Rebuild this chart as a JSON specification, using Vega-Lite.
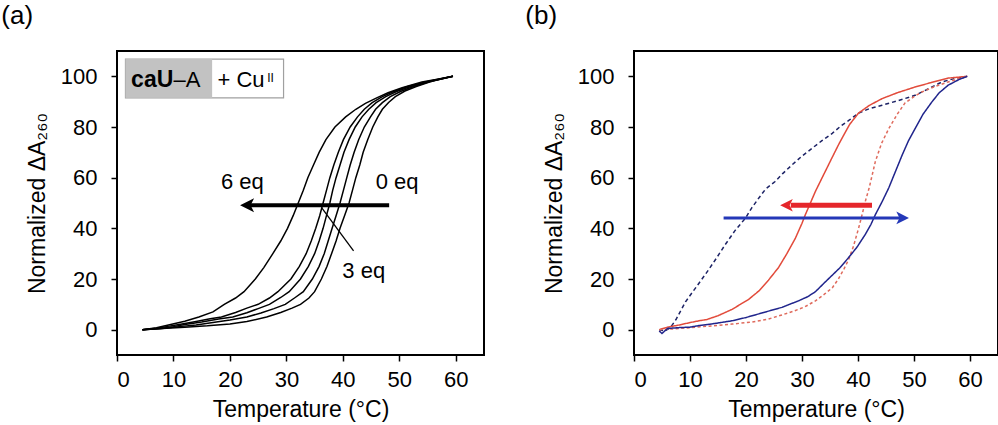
{
  "$schema": "https://vega.github.io/schema/vega-lite/v6.json",
  "padding": {"left": 0, "top": 2, "right": 0, "bottom": 0},
  "config": {
    "font": "Liberation Sans",
    "view": {"stroke": "black", "strokeWidth": 2},
    "axis": {
      "grid": false, "domain": false,
      "labelFont": "Liberation Sans", "labelFontSize": 22, "labelColor": "black",
      "titleFont": "Liberation Sans", "titleFontSize": 23, "titleFontWeight": "normal", "titleColor": "black",
      "tickColor": "black", "tickSize": 6, "tickWidth": 1.5
    },
    "axisX": {"labelPadding": 8, "titlePadding": 8},
    "axisY": {"labelPadding": 14, "titlePadding": 11},
    "title": {"font": "Liberation Sans", "fontSize": 26, "fontWeight": "normal", "color": "black", "anchor": "start", "frame": "bounds"},
    "concat": {"spacing": 39}
  },
  "datasets": {
    "melt_a": [
      {"series": "6 eq", "temp": 4.5, "dA": 0}, {"series": "6 eq", "temp": 7, "dA": 0.8}, {"series": "6 eq", "temp": 9.5, "dA": 2}, {"series": "6 eq", "temp": 12, "dA": 3.3}, {"series": "6 eq", "temp": 14.5, "dA": 5}, {"series": "6 eq", "temp": 17, "dA": 7}, {"series": "6 eq", "temp": 19, "dA": 10}, {"series": "6 eq", "temp": 21, "dA": 12.5}, {"series": "6 eq", "temp": 22.5, "dA": 15}, {"series": "6 eq", "temp": 24.5, "dA": 20}, {"series": "6 eq", "temp": 26, "dA": 24.5}, {"series": "6 eq", "temp": 27.6, "dA": 30}, {"series": "6 eq", "temp": 29, "dA": 35}, {"series": "6 eq", "temp": 30.2, "dA": 40}, {"series": "6 eq", "temp": 31.2, "dA": 45}, {"series": "6 eq", "temp": 32.1, "dA": 50}, {"series": "6 eq", "temp": 33, "dA": 55}, {"series": "6 eq", "temp": 33.8, "dA": 60}, {"series": "6 eq", "temp": 34.8, "dA": 65}, {"series": "6 eq", "temp": 35.8, "dA": 70}, {"series": "6 eq", "temp": 37, "dA": 75}, {"series": "6 eq", "temp": 38.6, "dA": 80}, {"series": "6 eq", "temp": 40.5, "dA": 84}, {"series": "6 eq", "temp": 42.3, "dA": 87}, {"series": "6 eq", "temp": 44, "dA": 89.3}, {"series": "6 eq", "temp": 46, "dA": 91.5}, {"series": "6 eq", "temp": 48, "dA": 93.5}, {"series": "6 eq", "temp": 50.5, "dA": 95.5}, {"series": "6 eq", "temp": 54, "dA": 97.8}, {"series": "6 eq", "temp": 57, "dA": 99}, {"series": "6 eq", "temp": 59.5, "dA": 100},
      {"series": "4.5 eq", "temp": 4.5, "dA": 0}, {"series": "4.5 eq", "temp": 7, "dA": 0.6}, {"series": "4.5 eq", "temp": 9, "dA": 1.3}, {"series": "4.5 eq", "temp": 11, "dA": 2}, {"series": "4.5 eq", "temp": 14, "dA": 3.2}, {"series": "4.5 eq", "temp": 16.5, "dA": 4.3}, {"series": "4.5 eq", "temp": 18.5, "dA": 5}, {"series": "4.5 eq", "temp": 21, "dA": 6.8}, {"series": "4.5 eq", "temp": 23, "dA": 8.5}, {"series": "4.5 eq", "temp": 25, "dA": 10}, {"series": "4.5 eq", "temp": 27, "dA": 12.5}, {"series": "4.5 eq", "temp": 28.5, "dA": 15}, {"series": "4.5 eq", "temp": 30.8, "dA": 20}, {"series": "4.5 eq", "temp": 32.3, "dA": 25}, {"series": "4.5 eq", "temp": 33.5, "dA": 30}, {"series": "4.5 eq", "temp": 34.4, "dA": 35}, {"series": "4.5 eq", "temp": 35.2, "dA": 40}, {"series": "4.5 eq", "temp": 35.9, "dA": 45}, {"series": "4.5 eq", "temp": 36.5, "dA": 50}, {"series": "4.5 eq", "temp": 37.1, "dA": 55}, {"series": "4.5 eq", "temp": 37.7, "dA": 60}, {"series": "4.5 eq", "temp": 38.4, "dA": 65}, {"series": "4.5 eq", "temp": 39.2, "dA": 70}, {"series": "4.5 eq", "temp": 40.1, "dA": 75}, {"series": "4.5 eq", "temp": 41.3, "dA": 80}, {"series": "4.5 eq", "temp": 42.6, "dA": 84}, {"series": "4.5 eq", "temp": 43.8, "dA": 87}, {"series": "4.5 eq", "temp": 45.2, "dA": 89.6}, {"series": "4.5 eq", "temp": 47, "dA": 92}, {"series": "4.5 eq", "temp": 49, "dA": 94}, {"series": "4.5 eq", "temp": 51.5, "dA": 96}, {"series": "4.5 eq", "temp": 55, "dA": 98}, {"series": "4.5 eq", "temp": 59.5, "dA": 100},
      {"series": "3 eq", "temp": 4.5, "dA": 0}, {"series": "3 eq", "temp": 8, "dA": 0.6}, {"series": "3 eq", "temp": 10, "dA": 1.2}, {"series": "3 eq", "temp": 12, "dA": 2}, {"series": "3 eq", "temp": 15, "dA": 3}, {"series": "3 eq", "temp": 18, "dA": 4.2}, {"series": "3 eq", "temp": 20.5, "dA": 5}, {"series": "3 eq", "temp": 23, "dA": 6.7}, {"series": "3 eq", "temp": 25, "dA": 8.3}, {"series": "3 eq", "temp": 27, "dA": 10}, {"series": "3 eq", "temp": 29, "dA": 12.7}, {"series": "3 eq", "temp": 30.5, "dA": 15}, {"series": "3 eq", "temp": 32.5, "dA": 20}, {"series": "3 eq", "temp": 33.9, "dA": 25}, {"series": "3 eq", "temp": 35, "dA": 30}, {"series": "3 eq", "temp": 35.8, "dA": 35}, {"series": "3 eq", "temp": 36.5, "dA": 40}, {"series": "3 eq", "temp": 37.1, "dA": 45}, {"series": "3 eq", "temp": 37.7, "dA": 50}, {"series": "3 eq", "temp": 38.2, "dA": 55}, {"series": "3 eq", "temp": 38.8, "dA": 60}, {"series": "3 eq", "temp": 39.5, "dA": 65}, {"series": "3 eq", "temp": 40.2, "dA": 70}, {"series": "3 eq", "temp": 41.1, "dA": 75}, {"series": "3 eq", "temp": 42.2, "dA": 80}, {"series": "3 eq", "temp": 43.4, "dA": 84}, {"series": "3 eq", "temp": 44.6, "dA": 87}, {"series": "3 eq", "temp": 45.9, "dA": 89.6}, {"series": "3 eq", "temp": 47.6, "dA": 92}, {"series": "3 eq", "temp": 49.5, "dA": 94}, {"series": "3 eq", "temp": 52, "dA": 96}, {"series": "3 eq", "temp": 55.3, "dA": 98}, {"series": "3 eq", "temp": 59.5, "dA": 100},
      {"series": "1.5 eq", "temp": 4.5, "dA": 0}, {"series": "1.5 eq", "temp": 8, "dA": 0.5}, {"series": "1.5 eq", "temp": 11, "dA": 1.2}, {"series": "1.5 eq", "temp": 14, "dA": 1.8}, {"series": "1.5 eq", "temp": 17, "dA": 2.8}, {"series": "1.5 eq", "temp": 20, "dA": 3.8}, {"series": "1.5 eq", "temp": 23, "dA": 5}, {"series": "1.5 eq", "temp": 25.5, "dA": 6.6}, {"series": "1.5 eq", "temp": 27.8, "dA": 8.3}, {"series": "1.5 eq", "temp": 29.8, "dA": 10}, {"series": "1.5 eq", "temp": 31.5, "dA": 12.6}, {"series": "1.5 eq", "temp": 33, "dA": 15}, {"series": "1.5 eq", "temp": 34.6, "dA": 20}, {"series": "1.5 eq", "temp": 35.8, "dA": 25}, {"series": "1.5 eq", "temp": 36.7, "dA": 30}, {"series": "1.5 eq", "temp": 37.4, "dA": 35}, {"series": "1.5 eq", "temp": 38.1, "dA": 40}, {"series": "1.5 eq", "temp": 38.8, "dA": 45}, {"series": "1.5 eq", "temp": 39.5, "dA": 50}, {"series": "1.5 eq", "temp": 40.1, "dA": 55}, {"series": "1.5 eq", "temp": 40.7, "dA": 60}, {"series": "1.5 eq", "temp": 41.3, "dA": 65}, {"series": "1.5 eq", "temp": 42, "dA": 70}, {"series": "1.5 eq", "temp": 42.8, "dA": 75}, {"series": "1.5 eq", "temp": 43.8, "dA": 80}, {"series": "1.5 eq", "temp": 44.9, "dA": 84}, {"series": "1.5 eq", "temp": 45.8, "dA": 87}, {"series": "1.5 eq", "temp": 47, "dA": 89.6}, {"series": "1.5 eq", "temp": 48.4, "dA": 92}, {"series": "1.5 eq", "temp": 50.2, "dA": 94}, {"series": "1.5 eq", "temp": 52.5, "dA": 96}, {"series": "1.5 eq", "temp": 55.6, "dA": 98}, {"series": "1.5 eq", "temp": 59.5, "dA": 100},
      {"series": "0 eq", "temp": 4.5, "dA": 0}, {"series": "0 eq", "temp": 8, "dA": 0.5}, {"series": "0 eq", "temp": 12, "dA": 1}, {"series": "0 eq", "temp": 16, "dA": 1.5}, {"series": "0 eq", "temp": 20, "dA": 2.2}, {"series": "0 eq", "temp": 23, "dA": 3.2}, {"series": "0 eq", "temp": 26.5, "dA": 5}, {"series": "0 eq", "temp": 29, "dA": 6.8}, {"series": "0 eq", "temp": 31, "dA": 8.5}, {"series": "0 eq", "temp": 32.5, "dA": 10}, {"series": "0 eq", "temp": 34, "dA": 12.5}, {"series": "0 eq", "temp": 35, "dA": 15}, {"series": "0 eq", "temp": 36.2, "dA": 20}, {"series": "0 eq", "temp": 37.2, "dA": 25}, {"series": "0 eq", "temp": 38, "dA": 30}, {"series": "0 eq", "temp": 38.8, "dA": 35}, {"series": "0 eq", "temp": 39.5, "dA": 40}, {"series": "0 eq", "temp": 40.3, "dA": 45}, {"series": "0 eq", "temp": 41.1, "dA": 50}, {"series": "0 eq", "temp": 41.7, "dA": 55}, {"series": "0 eq", "temp": 42.3, "dA": 60}, {"series": "0 eq", "temp": 43, "dA": 65}, {"series": "0 eq", "temp": 43.6, "dA": 70}, {"series": "0 eq", "temp": 44.4, "dA": 75}, {"series": "0 eq", "temp": 45.3, "dA": 80}, {"series": "0 eq", "temp": 46.2, "dA": 84}, {"series": "0 eq", "temp": 47, "dA": 87}, {"series": "0 eq", "temp": 48.1, "dA": 89.7}, {"series": "0 eq", "temp": 49.3, "dA": 92}, {"series": "0 eq", "temp": 51, "dA": 94.2}, {"series": "0 eq", "temp": 53, "dA": 96}, {"series": "0 eq", "temp": 56, "dA": 98.2}, {"series": "0 eq", "temp": 59.5, "dA": 100}
    ],
    "melt_b": [
      {"series": "blue dashed", "temp": 4.5, "dA": 0}, {"series": "blue dashed", "temp": 5.5, "dA": -0.5}, {"series": "blue dashed", "temp": 6.5, "dA": 0.8}, {"series": "blue dashed", "temp": 7.5, "dA": 4}, {"series": "blue dashed", "temp": 9.2, "dA": 11}, {"series": "blue dashed", "temp": 11, "dA": 16.5}, {"series": "blue dashed", "temp": 12.8, "dA": 22}, {"series": "blue dashed", "temp": 14.5, "dA": 27.5}, {"series": "blue dashed", "temp": 16.3, "dA": 33.6}, {"series": "blue dashed", "temp": 18, "dA": 39}, {"series": "blue dashed", "temp": 19.9, "dA": 44}, {"series": "blue dashed", "temp": 21, "dA": 48}, {"series": "blue dashed", "temp": 22.3, "dA": 52}, {"series": "blue dashed", "temp": 23.5, "dA": 55.5}, {"series": "blue dashed", "temp": 25.2, "dA": 58.5}, {"series": "blue dashed", "temp": 26.5, "dA": 61.5}, {"series": "blue dashed", "temp": 28.2, "dA": 65}, {"series": "blue dashed", "temp": 30, "dA": 68.5}, {"series": "blue dashed", "temp": 31.8, "dA": 71.6}, {"series": "blue dashed", "temp": 33.5, "dA": 74.5}, {"series": "blue dashed", "temp": 35.4, "dA": 77.5}, {"series": "blue dashed", "temp": 37, "dA": 80.5}, {"series": "blue dashed", "temp": 38.3, "dA": 82.5}, {"series": "blue dashed", "temp": 40.1, "dA": 85.5}, {"series": "blue dashed", "temp": 42, "dA": 87.2}, {"series": "blue dashed", "temp": 44.3, "dA": 88.6}, {"series": "blue dashed", "temp": 47, "dA": 90.3}, {"series": "blue dashed", "temp": 50.2, "dA": 92.5}, {"series": "blue dashed", "temp": 52.5, "dA": 95}, {"series": "blue dashed", "temp": 55, "dA": 97.8}, {"series": "blue dashed", "temp": 57, "dA": 99}, {"series": "blue dashed", "temp": 59.5, "dA": 100},
      {"series": "red solid", "temp": 4.5, "dA": 0}, {"series": "red solid", "temp": 6, "dA": 1}, {"series": "red solid", "temp": 8, "dA": 1.8}, {"series": "red solid", "temp": 10, "dA": 2.8}, {"series": "red solid", "temp": 11.6, "dA": 3.5}, {"series": "red solid", "temp": 13, "dA": 4}, {"series": "red solid", "temp": 15, "dA": 5.5}, {"series": "red solid", "temp": 17.5, "dA": 8}, {"series": "red solid", "temp": 19, "dA": 10}, {"series": "red solid", "temp": 20.5, "dA": 12}, {"series": "red solid", "temp": 22.3, "dA": 15.3}, {"series": "red solid", "temp": 24, "dA": 19.5}, {"series": "red solid", "temp": 25.8, "dA": 24.5}, {"series": "red solid", "temp": 27.3, "dA": 30}, {"series": "red solid", "temp": 28.8, "dA": 36}, {"series": "red solid", "temp": 30, "dA": 42}, {"series": "red solid", "temp": 30.6, "dA": 45.4}, {"series": "red solid", "temp": 31.5, "dA": 50}, {"series": "red solid", "temp": 32.4, "dA": 54.6}, {"series": "red solid", "temp": 33.6, "dA": 60}, {"series": "red solid", "temp": 34.5, "dA": 64}, {"series": "red solid", "temp": 35.3, "dA": 67.6}, {"series": "red solid", "temp": 36.5, "dA": 72.9}, {"series": "red solid", "temp": 37.5, "dA": 77}, {"series": "red solid", "temp": 38.5, "dA": 81}, {"series": "red solid", "temp": 40.1, "dA": 85.5}, {"series": "red solid", "temp": 42, "dA": 88.5}, {"series": "red solid", "temp": 44.3, "dA": 91.2}, {"series": "red solid", "temp": 47, "dA": 93.5}, {"series": "red solid", "temp": 50.2, "dA": 95.8}, {"series": "red solid", "temp": 53, "dA": 97.5}, {"series": "red solid", "temp": 56.1, "dA": 99.3}, {"series": "red solid", "temp": 59.5, "dA": 100},
      {"series": "red dashed", "temp": 4.5, "dA": 0}, {"series": "red dashed", "temp": 7, "dA": 0.3}, {"series": "red dashed", "temp": 10, "dA": 0.8}, {"series": "red dashed", "temp": 14, "dA": 1.5}, {"series": "red dashed", "temp": 17.5, "dA": 2.2}, {"series": "red dashed", "temp": 21, "dA": 3}, {"series": "red dashed", "temp": 24, "dA": 4.2}, {"series": "red dashed", "temp": 26.4, "dA": 5.8}, {"series": "red dashed", "temp": 28.5, "dA": 7.3}, {"series": "red dashed", "temp": 30.5, "dA": 9}, {"series": "red dashed", "temp": 32.4, "dA": 11.4}, {"series": "red dashed", "temp": 34, "dA": 14}, {"series": "red dashed", "temp": 35.4, "dA": 16.5}, {"series": "red dashed", "temp": 36.5, "dA": 20}, {"series": "red dashed", "temp": 37.5, "dA": 24}, {"series": "red dashed", "temp": 38.3, "dA": 27.5}, {"series": "red dashed", "temp": 39.2, "dA": 33}, {"series": "red dashed", "temp": 40.1, "dA": 40}, {"series": "red dashed", "temp": 40.8, "dA": 46}, {"series": "red dashed", "temp": 41.3, "dA": 50.6}, {"series": "red dashed", "temp": 42, "dA": 56}, {"series": "red dashed", "temp": 43.1, "dA": 66.4}, {"series": "red dashed", "temp": 44.2, "dA": 73.5}, {"series": "red dashed", "temp": 45.5, "dA": 79.4}, {"series": "red dashed", "temp": 47, "dA": 85}, {"series": "red dashed", "temp": 48.4, "dA": 89.5}, {"series": "red dashed", "temp": 50, "dA": 92}, {"series": "red dashed", "temp": 51.4, "dA": 93.8}, {"series": "red dashed", "temp": 53.5, "dA": 95.8}, {"series": "red dashed", "temp": 56.1, "dA": 97.8}, {"series": "red dashed", "temp": 59.5, "dA": 100},
      {"series": "blue solid", "temp": 4.5, "dA": -0.5}, {"series": "blue solid", "temp": 5, "dA": -1.5}, {"series": "blue solid", "temp": 6, "dA": 0.5}, {"series": "blue solid", "temp": 8, "dA": 0.8}, {"series": "blue solid", "temp": 10, "dA": 1}, {"series": "blue solid", "temp": 11.6, "dA": 1.6}, {"series": "blue solid", "temp": 14, "dA": 2.3}, {"series": "blue solid", "temp": 17.5, "dA": 3.5}, {"series": "blue solid", "temp": 20, "dA": 4.8}, {"series": "blue solid", "temp": 23.5, "dA": 7}, {"series": "blue solid", "temp": 26.4, "dA": 8.8}, {"series": "blue solid", "temp": 29.4, "dA": 11.4}, {"series": "blue solid", "temp": 31, "dA": 13}, {"series": "blue solid", "temp": 32.4, "dA": 15}, {"series": "blue solid", "temp": 34, "dA": 18.5}, {"series": "blue solid", "temp": 35.4, "dA": 21.5}, {"series": "blue solid", "temp": 36.8, "dA": 24.5}, {"series": "blue solid", "temp": 38.3, "dA": 28.4}, {"series": "blue solid", "temp": 39.8, "dA": 32.5}, {"series": "blue solid", "temp": 41.3, "dA": 37.6}, {"series": "blue solid", "temp": 42.3, "dA": 41.5}, {"series": "blue solid", "temp": 43.1, "dA": 45.4}, {"series": "blue solid", "temp": 44.3, "dA": 50.5}, {"series": "blue solid", "temp": 45.5, "dA": 56}, {"series": "blue solid", "temp": 46.7, "dA": 62.5}, {"series": "blue solid", "temp": 47.9, "dA": 69}, {"series": "blue solid", "temp": 49, "dA": 74.5}, {"series": "blue solid", "temp": 50.2, "dA": 79.4}, {"series": "blue solid", "temp": 51.6, "dA": 85}, {"series": "blue solid", "temp": 53.2, "dA": 89.9}, {"series": "blue solid", "temp": 54.5, "dA": 93.5}, {"series": "blue solid", "temp": 56.1, "dA": 96.5}, {"series": "blue solid", "temp": 58, "dA": 98.7}, {"series": "blue solid", "temp": 59.5, "dA": 100}
    ]
  },
  "hconcat": [
    {
      "title": {"text": "(a)", "dx": -25, "offset": 22},
      "width": 367,
      "height": 304,
      "layer": [
        {
          "data": {"values": [{"x": 1.5, "x2": 29.5, "y": 91.5, "y2": 106.8}]},
          "mark": {"type": "rect", "fill": "white", "stroke": "#a0a0a0", "strokeWidth": 1.2},
          "encoding": {
            "x": {"field": "x", "type": "quantitative", "scale": {"domain": [0, 65], "nice": false}, "axis": {"values": [0, 10, 20, 30, 40, 50, 60], "title": "Temperature (°C)"}},
            "x2": {"field": "x2"},
            "y": {"field": "y", "type": "quantitative", "scale": {"domain": [-10, 110], "nice": false}, "axis": {"values": [0, 20, 40, 60, 80, 100], "title": "Normalized ΔA₂₆₀"}},
            "y2": {"field": "y2"}
          }
        },
        {
          "data": {"values": [{"x": 1.5, "x2": 16.85, "y": 91.5, "y2": 106.8}]},
          "mark": {"type": "rect", "fill": "#c2c2c2"},
          "encoding": {
            "x": {"field": "x", "type": "quantitative"},
            "x2": {"field": "x2"},
            "y": {"field": "y", "type": "quantitative"},
            "y2": {"field": "y2"}
          }
        },
        {
          "data": {"name": "melt_a"},
          "mark": {"type": "line", "color": "black", "strokeWidth": 1.5},
          "encoding": {
            "x": {"field": "temp", "type": "quantitative"},
            "y": {"field": "dA", "type": "quantitative"},
            "detail": {"field": "series"}
          }
        },
        {
          "data": {"values": [{"x": 41.9, "x2": 36.3, "y": 31.1, "y2": 48.0}]},
          "mark": {"type": "rule", "color": "black", "strokeWidth": 1.3},
          "encoding": {
            "x": {"field": "x", "type": "quantitative"},
            "x2": {"field": "x2"},
            "y": {"field": "y", "type": "quantitative"},
            "y2": {"field": "y2"}
          }
        },
        {
          "data": {"values": [{"x": 48.2, "x2": 23.2, "y": 49.1}]},
          "mark": {"type": "rule", "color": "black", "strokeWidth": 4},
          "encoding": {
            "x": {"field": "x", "type": "quantitative"},
            "x2": {"field": "x2"},
            "y": {"field": "y", "type": "quantitative"}
          }
        },
        {
          "data": {"values": [{"x": 21.8, "y": 49.1}]},
          "mark": {"type": "point", "shape": "M0,0 L2,-1 L1.5,0 L2,1 Z", "filled": true, "color": "black", "opacity": 1, "size": 196, "strokeWidth": 0},
          "encoding": {
            "x": {"field": "x", "type": "quantitative"},
            "y": {"field": "y", "type": "quantitative"}
          }
        },
        {
          "data": {"values": [{"label": "6 eq", "x": 22.2, "y": 58.1}, {"label": "0 eq", "x": 49.6, "y": 58.1}, {"label": "3 eq", "x": 43.7, "y": 23.2}]},
          "mark": {"type": "text", "fontSize": 22, "color": "black", "align": "center", "baseline": "middle"},
          "encoding": {
            "x": {"field": "x", "type": "quantitative"},
            "y": {"field": "y", "type": "quantitative"},
            "text": {"field": "label"}
          }
        },
        {
          "data": {"values": [{"label": "caU", "x": 2.5, "y": 95.8}]},
          "mark": {"type": "text", "fontSize": 23, "fontWeight": "bold", "color": "black", "align": "left", "baseline": "alphabetic"},
          "encoding": {
            "x": {"field": "x", "type": "quantitative"},
            "y": {"field": "y", "type": "quantitative"},
            "text": {"field": "label"}
          }
        },
        {
          "data": {"values": [{"label": "–A", "x": 10.0, "y": 95.8}, {"label": "+ Cu", "x": 17.8, "y": 95.8}]},
          "mark": {"type": "text", "fontSize": 22, "color": "black", "align": "left", "baseline": "alphabetic"},
          "encoding": {
            "x": {"field": "x", "type": "quantitative"},
            "y": {"field": "y", "type": "quantitative"},
            "text": {"field": "label"}
          }
        },
        {
          "data": {"values": [{"label": "II", "x": 26.6, "y": 97.9}]},
          "mark": {"type": "text", "fontSize": 12, "color": "black", "align": "left", "baseline": "alphabetic"},
          "encoding": {
            "x": {"field": "x", "type": "quantitative"},
            "y": {"field": "y", "type": "quantitative"},
            "text": {"field": "label"}
          }
        }
      ]
    },
    {
      "title": {"text": "(b)", "dx": -18, "offset": 22},
      "width": 364,
      "height": 304,
      "layer": [
        {
          "data": {"name": "melt_b"},
          "mark": {"type": "line", "strokeWidth": 1.5},
          "encoding": {
            "x": {"field": "temp", "type": "quantitative", "scale": {"domain": [0, 65], "nice": false}, "axis": {"values": [0, 10, 20, 30, 40, 50, 60], "title": "Temperature (°C)"}},
            "y": {"field": "dA", "type": "quantitative", "scale": {"domain": [-10, 110], "nice": false}, "axis": {"values": [0, 20, 40, 60, 80, 100], "title": "Normalized ΔA₂₆₀"}},
            "color": {"field": "series", "type": "nominal", "legend": null, "scale": {"domain": ["blue dashed", "red solid", "red dashed", "blue solid"], "range": ["#1d2366", "#e24b3b", "#df6a5c", "#20258c"]}},
            "strokeDash": {"field": "series", "type": "nominal", "legend": null, "scale": {"domain": ["blue dashed", "red solid", "red dashed", "blue solid"], "range": [[4, 3], [1, 0], [3, 2.5], [1, 0]]}}
          }
        },
        {
          "data": {"values": [{"x": 42.5, "x2": 28.0, "y": 49.1}]},
          "mark": {"type": "rule", "color": "#e5262b", "strokeWidth": 5},
          "encoding": {
            "x": {"field": "x", "type": "quantitative"},
            "x2": {"field": "x2"},
            "y": {"field": "y", "type": "quantitative"}
          }
        },
        {
          "data": {"values": [{"x": 26.1, "y": 49.1}]},
          "mark": {"type": "point", "shape": "M0,0 L2,-1 L1.5,0 L2,1 Z", "filled": true, "color": "#e5262b", "opacity": 1, "size": 160, "strokeWidth": 0},
          "encoding": {
            "x": {"field": "x", "type": "quantitative"},
            "y": {"field": "y", "type": "quantitative"}
          }
        },
        {
          "data": {"values": [{"x": 16.0, "x2": 47.5, "y": 44.1}]},
          "mark": {"type": "rule", "color": "#2438b8", "strokeWidth": 3},
          "encoding": {
            "x": {"field": "x", "type": "quantitative"},
            "x2": {"field": "x2"},
            "y": {"field": "y", "type": "quantitative"}
          }
        },
        {
          "data": {"values": [{"x": 49.1, "y": 44.1}]},
          "mark": {"type": "point", "shape": "M0,0 L-2,-1 L-1.5,0 L-2,1 Z", "filled": true, "color": "#2438b8", "opacity": 1, "size": 160, "strokeWidth": 0},
          "encoding": {
            "x": {"field": "x", "type": "quantitative"},
            "y": {"field": "y", "type": "quantitative"}
          }
        }
      ]
    }
  ]
}
